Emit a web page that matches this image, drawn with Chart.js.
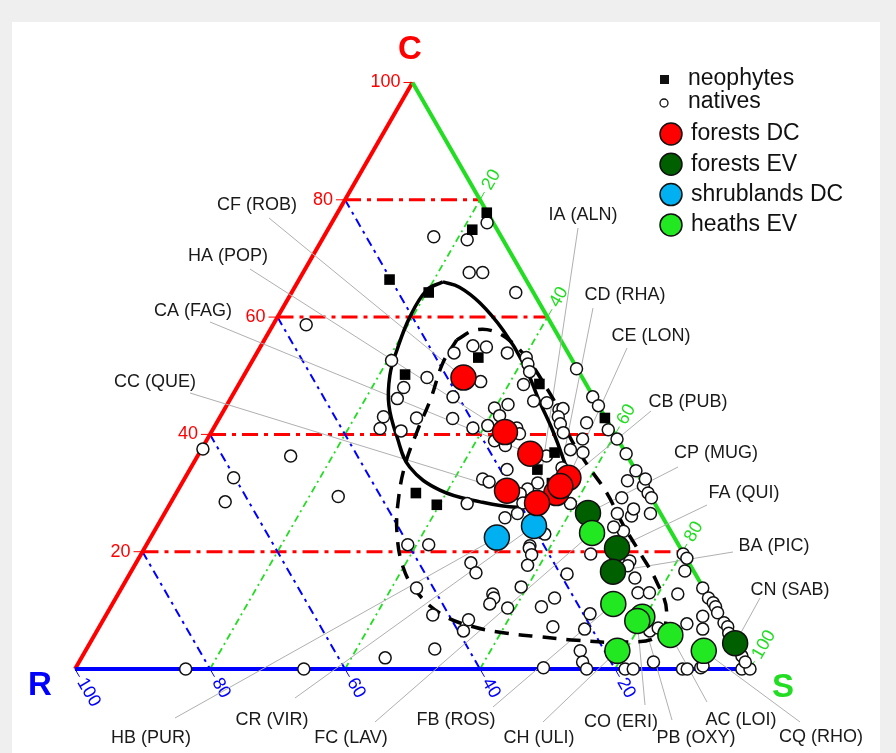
<!DOCTYPE html>
<html>
<head>
<meta charset="utf-8">
<script src="https://cdn.jsdelivr.net/npm/chart.js@4.4.0/dist/chart.umd.min.js"></script>
<style>
html, body { margin: 0; padding: 0; background: #efefef; }
canvas { display: block; }
</style>
</head>
<body>
<canvas id="chart" width="896" height="753"></canvas>
<script>
// CSR ternary plot. Every point is [C, S] in percent, R = 100 - C - S.

var gridSteps = [20, 40, 60, 80];
var tickSteps = [20, 40, 60, 80, 100];

var natives = [
	[73.7,16.3],[73.2,21.5],[76.1,23.0],[67.6,24.6],[67.6,26.6],[64.2,33.2],[52.6,20.6],[53.9,29.2],
	[55.1,31.4],[54.9,33.5],[53.9,37.1],[53.1,40.3],[52.0,41.1],[50.7,42.0],[51.2,48.7],[49.7,27.3],
	[49.0,35.6],[48.0,24.7],[46.4,32.8],[46.1,24.7],[48.5,42.2],[45.7,45.1],[44.5,39.9],[45.1,41.6],
	[43.2,41.3],[45.4,47.2],[44.2,49.6],[44.4,50.1],[43.0,50.1],[41.8,51.0],[43.0,24.2],[42.8,29.2],
	[42.7,34.6],[41.0,24.7],[40.6,28.0],[41.1,38.4],[41.5,40.4],[41.1,44.9],[40.1,45.8],[38.9,42.7],
	[38.1,44.7],[42.0,54.8],[39.2,55.6],[37.4,54.7],[36.3,51.7],[36.9,56.8],[34.0,47.0],[32.4,44.2],
	[31.9,45.4],[31.7,52.7],[30.7,51.7],[29.9,51.0],[28.2,59.3],[28.3,52.2],[28.2,44.0],[29.4,24.3],
	[25.8,50.8],[26.5,52.3],[23.0,58.1],[21.2,38.7],[21.2,41.8],[21.0,56.9],[29.2,66.4],[33.8,66.2],
	[31.2,68.6],[32.4,68.3],[32.1,65.8],[26.5,67.1],[26.1,69.4],[23.5,69.5],[46.4,53.5],[44.9,55.1],
	[40.8,58.6],[39.2,60.7],[36.7,63.3],[30.0,69.9],[29.2,70.8],[27.3,69.1],[26.5,72.0],[24.2,67.7],
	[19.6,66.6],[19.6,80.3],[18.9,81.2],[40.3,52.2],[18.4,73.0],[17.6,73.1],[15.5,75.2],[16.2,64.8],
	[16.7,82.0],[13.8,86.1],[12.1,87.8],[11.3,88.9],[10.6,89.6],[9.6,90.4],[7.9,92.2],[7.2,93.1],
	[6.1,93.8],[13.0,76.9],[13.0,78.6],[12.8,82.9],[9.4,71.6],[9.0,88.5],[7.7,86.8],[6.8,89.6],
	[6.8,72.1],[6.5,81.9],[7.0,82.9],[3.1,73.3],[1.2,74.6],[1.2,85.1],[0,75.8],[0,81.5],
	[0,82.7],[0,90.0],[0,90.7],[0.2,92.6],[2.2,97.7],[0,98.8],[0,100],[1.2,98.7],
	[18.1,49.6],[16.4,51.2],[13.8,43.7],[12.8,55.5],[12.1,56.0],[11.1,55.9],[10.4,58.9],[14.0,59.1],
	[10.6,63.8],[12.1,65.0],[20.6,57.0],[19.5,57.9],[17.7,58.2],[9.2,48.4],[8.4,54.1],[6.5,54.3],
	[7.2,67.2],[3.4,51.6],[1.9,45.0],[0.2,69.3],[0.5,92.8],[58.7,4.9],[37.5,0.2],[32.6,7.2],
	[28.5,8.0],[36.3,13.8],[0,16.4],[0,33.9],[34.3,55.0]
];

var neophytes = [
	[77.8,22.1],[74.9,21.4],[66.4,13.4],[64.2,20.3],[53.1,33.2],[50.2,23.8],[48.6,44.5],
	[42.8,57.1],[36.9,52.6],[34.0,51.5],[31.7,54.8],[30.0,35.5],[28.0,39.6]
];

var forestsDC = [[49.7,32.7],[40.4,43.5],[36.7,49.1],[32.6,56.8],[30.4,48.8],[30.0,56.3],[28.3,54.3],[31.2,56.3]];
var forestsEV = [[26.6,62.7],[20.6,70.0],[16.6,71.4],[4.4,95.6]];
var shrublandsDC = [[22.4,51.3],[24.4,55.8]];
var heathsEV = [[23.2,65.0],[11.1,74.2],[8.9,79.6],[8.2,79.2],[5.8,85.3],[3.1,91.6],[3.1,78.8]];

// community codes, in the same order as the points of each group
var forestsDCNames = ["CF (ROB)", "HA (POP)", "CA (FAG)", "CE (LON)", "CC (QUE)", "CD (RHA)", "IA (ALN)", "CB (PUB)"];
var forestsEVNames = ["CP (MUG)", "FA (QUI)", "BA (PIC)", "CN (SAB)"];
var shrublandsDCNames = ["HB (PUR)", "CR (VIR)"];
var heathsEVNames = ["FC (LAV)", "FB (ROS)", "PB (OXY)", "CO (ERI)", "AC (LOI)", "CQ (RHO)", "CH (ULI)"];

var solidLoop = [
	[66.0,21.5],[65.1,24.4],[62.4,28.8],[57.8,34.5],[52.2,40.3],[45.4,46.2],[40.7,50.4],[36.1,54.2],
	[33.4,56.2],[30.0,57.3],[28.3,55.7],[27.6,51.7],[28.5,45.8],[30.5,38.8],[34.4,32.4],[39.6,27.9],
	[45.0,24.0],[50.1,21.6],[54.4,20.5],[60.0,19.6],[64.6,19.8],[66.0,21.5]
];
var dashedLoop = [
	[56.1,28.5],[57.8,30.4],[57.5,33.5],[55.2,37.6],[51.8,41.8],[48.4,45.4],[44.7,49.1],[39.6,53.5],
	[34.8,58.5],[30.0,63.8],[24.9,68.6],[19.8,73.8],[14.8,78.8],[9.7,82.8],[5.5,83.5],[4.6,78.4],
	[4.9,71.9],[5.5,66.2],[6.1,60.9],[7.2,55.4],[9.2,49.9],[13.1,44.1],[17.4,39.9],[23.2,36.1],
	[28.8,33.5],[34.8,31.5],[40.7,30.4],[45.9,29.7],[52.2,28.4],[56.1,28.5]
];

// label placement: text centre x, y and start of the leader line x, y (pixels)
var labelLayout = {
	"CF (ROB)": [257, 205, 269, 218], "HA (POP)": [228, 256, 250, 269],
	"CA (FAG)": [193, 311, 210, 322], "CC (QUE)": [155, 382, 190, 393],
	"IA (ALN)": [583, 215, 578, 228], "CD (RHA)": [625, 295, 593, 308],
	"CE (LON)": [651, 336, 627, 348], "CB (PUB)": [688, 402, 651, 411],
	"CP (MUG)": [716, 453, 678, 467], "FA (QUI)": [744, 493, 707, 505],
	"BA (PIC)": [774, 546, 733, 552], "CN (SAB)": [790, 590, 760, 598],
	"HB (PUR)": [151, 738, 175, 718], "CR (VIR)": [272, 720, 295, 698],
	"FC (LAV)": [351, 738, 375, 722], "FB (ROS)": [456, 720, 493, 707],
	"CH (ULI)": [539, 738, 543, 722], "CO (ERI)": [621, 722, 645, 705],
	"PB (OXY)": [696, 738, 672, 720], "AC (LOI)": [741, 720, 707, 702],
	"CQ (RHO)": [821, 737, 800, 722]
};

var RED = "#ff0000", BLUE = "#0000ff", GREEN = "#22dd22";
var FONT = "'Liberation Sans', Arial, sans-serif";

function toXY(p) {
	return { x: p[1] + p[0] / 2, y: p[0] };
}

function pix(chart, c, s) {
	return {
		x: chart.scales.x.getPixelForValue(s + c / 2),
		y: chart.scales.y.getPixelForValue(c)
	};
}

function segment(ctx, a, b, color, width, dash) {
	ctx.save();
	ctx.strokeStyle = color;
	ctx.lineWidth = width;
	ctx.setLineDash(dash || []);
	ctx.beginPath();
	ctx.moveTo(a.x, a.y);
	ctx.lineTo(b.x, b.y);
	ctx.stroke();
	ctx.restore();
}

function rotatedText(ctx, text, p, angle, dist, color) {
	ctx.save();
	ctx.translate(p.x + Math.cos(angle) * dist, p.y + Math.sin(angle) * dist);
	ctx.rotate(angle);
	ctx.fillStyle = color;
	ctx.textAlign = "left";
	ctx.textBaseline = "middle";
	ctx.fillText(text, 0, 0);
	ctx.restore();
}

var ternaryFrame = {
	id: "ternaryFrame",
	beforeDraw: function(chart) {
		var ctx = chart.ctx;
		ctx.save();
		ctx.fillStyle = "#efefef";
		ctx.fillRect(0, 0, chart.width, chart.height);
		ctx.fillStyle = "#ffffff";
		ctx.fillRect(12, 22, 868, chart.height - 22);
		ctx.restore();
	},
	beforeDatasetsDraw: function(chart) {
		var ctx = chart.ctx;
		var i, v;

		// grid: constant C (red), constant R (blue), constant S (green)
		for (i = 0; i < gridSteps.length; i++) {
			v = gridSteps[i];
			segment(ctx, pix(chart, v, 0), pix(chart, v, 100 - v), RED, 3, [16, 6, 4, 6]);
			segment(ctx, pix(chart, 100 - v, 0), pix(chart, 0, 100 - v), BLUE, 2, [9, 5, 3, 5]);
			segment(ctx, pix(chart, 0, v), pix(chart, 100 - v, v), GREEN, 1.8, [7, 4, 2, 4]);
		}

		// triangle edges
		var pR = pix(chart, 0, 0), pC = pix(chart, 100, 0), pS = pix(chart, 0, 100);
		segment(ctx, pR, pC, RED, 4);
		segment(ctx, pR, pS, BLUE, 4);
		segment(ctx, pC, pS, GREEN, 4);

		// ticks and tick labels
		ctx.font = "18px " + FONT;
		for (i = 0; i < tickSteps.length; i++) {
			v = tickSteps[i];
			var pc = pix(chart, v, 0);
			segment(ctx, { x: pc.x - 9, y: pc.y }, pc, RED, 1);
			ctx.fillStyle = RED;
			ctx.textAlign = "right";
			ctx.textBaseline = "middle";
			ctx.fillText(String(v), pc.x - 12, pc.y);

			var pr = pix(chart, 0, 100 - v);
			var down = Math.PI / 3;
			segment(ctx, pr, { x: pr.x + Math.cos(down) * 9, y: pr.y + Math.sin(down) * 9 }, BLUE, 1);
			rotatedText(ctx, String(v), pr, down, 12, BLUE);

			var ps = pix(chart, 100 - v, v);
			var up = -Math.PI / 3;
			segment(ctx, ps, { x: ps.x + Math.cos(up) * 9, y: ps.y + Math.sin(up) * 9 }, GREEN, 1);
			rotatedText(ctx, String(v), ps, up, 13, GREEN);
		}

		// leader lines from community codes to their points
		var groups = [[forestsDC, forestsDCNames], [forestsEV, forestsEVNames],
			[shrublandsDC, shrublandsDCNames], [heathsEV, heathsEVNames]];
		for (i = 0; i < groups.length; i++) {
			var pts = groups[i][0], names = groups[i][1];
			for (var j = 0; j < names.length; j++) {
				var lay = labelLayout[names[j]];
				var target = pix(chart, pts[j][0], pts[j][1]);
				segment(ctx, { x: lay[2], y: lay[3] }, target, "#b0b0b0", 1);
			}
		}
	},
	afterDatasetsDraw: function(chart) {
		var ctx = chart.ctx;
		ctx.save();

		// community codes
		ctx.font = "18px " + FONT;
		ctx.fillStyle = "#1a1a1a";
		ctx.textAlign = "center";
		ctx.textBaseline = "middle";
		for (var name in labelLayout) {
			ctx.fillText(name, labelLayout[name][0], labelLayout[name][1]);
		}

		// corner names
		ctx.font = "bold 33px " + FONT;
		ctx.fillStyle = RED;
		ctx.fillText("C", 410, 50);
		ctx.fillStyle = BLUE;
		ctx.fillText("R", 40, 686);
		ctx.fillStyle = GREEN;
		ctx.fillText("S", 783, 688);

		// legend
		ctx.font = "23px " + FONT;
		ctx.textAlign = "left";
		ctx.fillStyle = "#111";
		ctx.fillRect(660, 75, 9, 9);
		ctx.fillText("neophytes", 688, 79);
		ctx.beginPath();
		ctx.arc(664, 103, 4, 0, Math.PI * 2);
		ctx.lineWidth = 1.3;
		ctx.strokeStyle = "#111";
		ctx.stroke();
		ctx.fillText("natives", 688, 102);

		var entries = [["forests DC", "#ff0000"], ["forests EV", "#006000"],
			["shrublands DC", "#00b0f0"], ["heaths EV", "#22e822"]];
		for (var k = 0; k < entries.length; k++) {
			var y = 134 + k * 30.3;
			ctx.beginPath();
			ctx.arc(671, y, 11, 0, Math.PI * 2);
			ctx.fillStyle = entries[k][1];
			ctx.fill();
			ctx.lineWidth = 1.5;
			ctx.strokeStyle = "#111";
			ctx.stroke();
			ctx.fillStyle = "#111";
			ctx.fillText(entries[k][0], 691, y);
		}
		ctx.restore();
	}
};

function pointSet(label, pts, style, radius, fill, order) {
	return {
		label: label,
		data: pts.map(toXY),
		pointStyle: style,
		pointRadius: radius,
		backgroundColor: fill,
		borderColor: "#111",
		pointBackgroundColor: fill,
		pointBorderColor: "#111",
		pointBorderWidth: style === "rect" ? 0 : 1.5,
		order: order,
		clip: false
	};
}

function loopSet(label, pts, dash) {
	return {
		label: label,
		data: pts.map(toXY),
		showLine: true,
		tension: 0.4,
		borderColor: "#000",
		borderWidth: 3.5,
		borderDash: dash,
		pointRadius: 0,
		fill: false,
		order: 10,
		clip: false
	};
}

new Chart(document.getElementById("chart"), {
	type: "scatter",
	data: {
		datasets: [
			loopSet("solid", solidLoop, []),
			loopSet("dashed", dashedLoop, [14, 10]),
			pointSet("natives", natives, "circle", 6, "#ffffff", 6),
			pointSet("neophytes", neophytes, "rect", 7.5, "#000000", 5),
			pointSet("shrublands DC", shrublandsDC, "circle", 12.5, "#00b0f0", 4),
			pointSet("forests DC", forestsDC, "circle", 12.5, "#ff0000", 3),
			pointSet("forests EV", forestsEV, "circle", 12.5, "#006000", 2),
			pointSet("heaths EV", heathsEV, "circle", 12.5, "#22e822", 1)
		]
	},
	options: {
		responsive: false,
		animation: false,
		events: [],
		layout: { padding: { left: 75, right: 146, top: 82.5, bottom: 84 } },
		scales: {
			x: { type: "linear", min: 0, max: 100, display: false },
			y: { type: "linear", min: 0, max: 100, display: false }
		},
		plugins: {
			legend: { display: false },
			tooltip: { enabled: false }
		}
	},
	plugins: [ternaryFrame]
});
</script>
</body>
</html>
